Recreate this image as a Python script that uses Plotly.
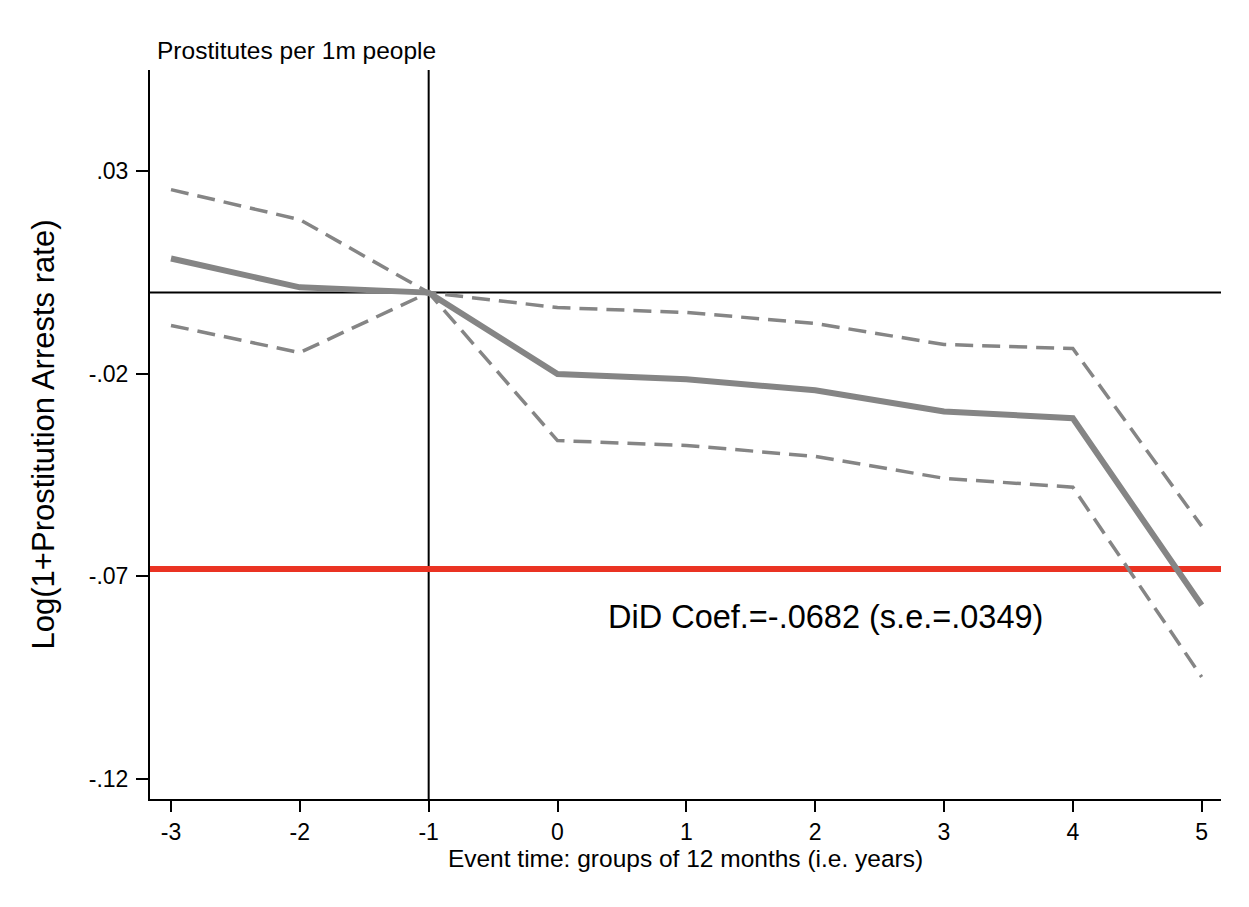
import plotly.graph_objects as go

event_time = [-3, -2, -1, 0, 1, 2, 3, 4, 5]
coef = [0.0084, 0.0013, 0.0, -0.0201, -0.0214, -0.0241, -0.0293, -0.0310, -0.0771]
ci_upper = [0.0254, 0.0180, 0.0, -0.0037, -0.0049, -0.0076, -0.0128, -0.0138, -0.0576]
ci_lower = [-0.0081, -0.0148, 0.0, -0.0365, -0.0377, -0.0404, -0.0458, -0.0480, -0.0948]
did_coef = -0.0682
did_label = "DiD Coef.=-.0682 (s.e.=.0349)"
ytick_vals = [0.03, -0.02, -0.07, -0.12]
ytick_text = [".03", "-.02", "-.07", "-.12"]
xtick_vals = [-3, -2, -1, 0, 1, 2, 3, 4, 5]
xtick_text = ["-3", "-2", "-1", "0", "1", "2", "3", "4", "5"]
event_line = -1

FONT = "Liberation Sans, Arial, Helvetica, sans-serif"
GRAY = "#858585"

fig = go.Figure()
fig.add_trace(go.Scatter(x=event_time, y=ci_upper, mode="lines",
                         line=dict(color=GRAY, width=3.5, dash="18px,9px"),
                         showlegend=False, hoverinfo="skip"))
fig.add_trace(go.Scatter(x=event_time, y=ci_lower, mode="lines",
                         line=dict(color=GRAY, width=3.5, dash="18px,9px"),
                         showlegend=False, hoverinfo="skip"))
fig.add_trace(go.Scatter(x=event_time, y=coef, mode="lines",
                         line=dict(color=GRAY, width=6),
                         showlegend=False))

# reference lines
fig.add_shape(type="line", xref="paper", yref="y", x0=0, x1=1, y0=0, y1=0,
              line=dict(color="black", width=2), layer="below")
fig.add_shape(type="line", xref="x", yref="paper", x0=event_line, x1=event_line, y0=0, y1=1,
              line=dict(color="black", width=2), layer="below")
fig.add_shape(type="line", xref="paper", yref="y", x0=0, x1=1, y0=did_coef, y1=did_coef,
              line=dict(color="#EA3323", width=6), layer="below")

fig.add_annotation(x=2.08, y=-0.0800, xref="x", yref="y", text=did_label,
                   showarrow=False, font=dict(size=32.5, color="black", family=FONT),
                   xanchor="center", yanchor="middle")
fig.add_annotation(x=0.005, y=1.005, xref="paper", yref="paper",
                   text="Prostitutes per 1m people", showarrow=False,
                   font=dict(size=24.5, color="black", family=FONT),
                   xanchor="left", yanchor="bottom")

fig.update_layout(
    width=1241, height=899,
    margin=dict(l=142, r=28, t=62, b=108),
    paper_bgcolor="white", plot_bgcolor="white",
    font=dict(family=FONT, color="black"),
    showlegend=False,
)
fig.update_xaxes(range=[-3.163, 5.15], tickvals=xtick_vals, ticktext=xtick_text,
                 ticks="outside", ticklen=11, tickwidth=2, tickcolor="black",
                 showline=True, linecolor="black", linewidth=2,
                 showgrid=False, zeroline=False,
                 tickfont=dict(size=23, family=FONT, color="black"),
                 title=dict(text="Event time: groups of 12 months (i.e. years)",
                            font=dict(size=24.5, family=FONT, color="black"), standoff=4))
fig.update_yaxes(range=[-0.1249, 0.0549], tickvals=ytick_vals, ticktext=ytick_text,
                 ticks="outside", ticklen=12, tickwidth=2, tickcolor="black",
                 showline=True, linecolor="black", linewidth=2,
                 showgrid=False, zeroline=False, ticklabelstandoff=3,
                 tickfont=dict(size=23, family=FONT, color="black"),
                 title=dict(text="Log(1+Prostitution Arrests rate)",
                            font=dict(size=31, family=FONT, color="black"), standoff=25))

fig.write_html("out.html")
